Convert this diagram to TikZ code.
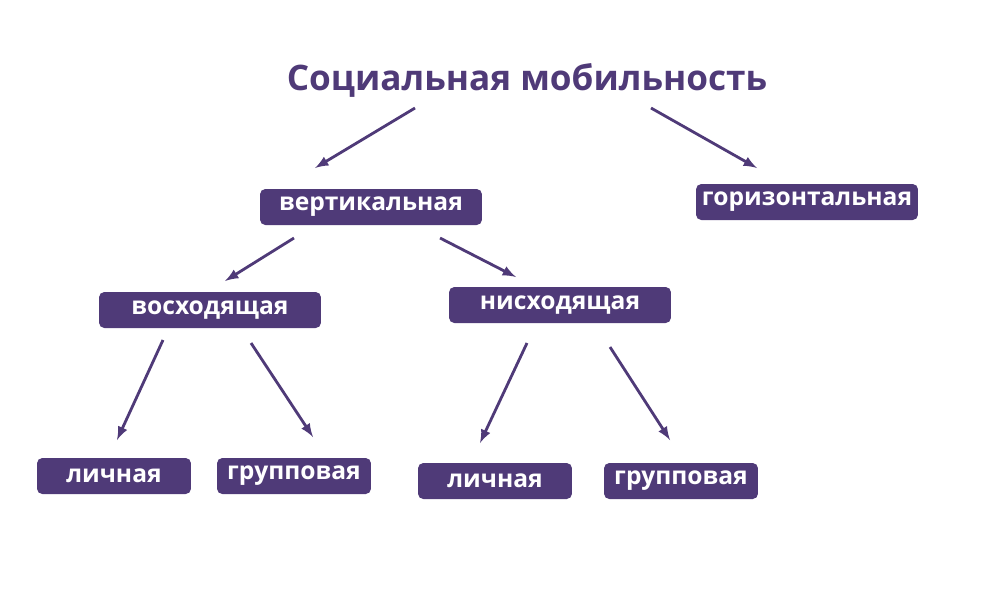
\documentclass[tikz,border=0pt]{standalone}
\usepackage{fontspec}
\setmainfont{Open Sans}
\usetikzlibrary{positioning}
\definecolor{violet}{HTML}{4F3A78}
\begin{document}
\begin{tikzpicture} [x=0.02cm,y=-0.02cm,
            box/.style={fill=violet,rounded corners=3pt,text=white,minimum width=4.44cm,minimum height=0.72cm,inner sep=0pt,font=\fontsize{14}{16}\selectfont\bfseries},
            small/.style={box,minimum width=3.08cm},
            arr/.style={-latex,violet,line width=1.6pt},
         every node/.append style={align=center}]
\useasboundingbox (0,0) rectangle (1000,600);
\node (title) at (527,80) [text=violet,font=\fontsize{20}{24}\selectfont\bfseries] {Социальная мобильность}
node (vert) at (371,207) [box] {вертикальная}
node (hor) at (807,202) [box] {горизонтальная}
node (up) at (210,310) [box] {восходящая}
node (down) at (560,305) [box] {нисходящая}
node (pers1) at (114,476) [small] {личная}
node (grp1) at (294,476) [small] {групповая}
node (pers2) at (495,481) [small] {личная}
node (grp2) at (681,481) [small] {групповая}
;
%arrow ends
\coordinate (a1) at (415,108); \coordinate (b1) at (315,168);
\coordinate (a2) at (651,108); \coordinate (b2) at (757,168);
\coordinate (a3) at (294,238); \coordinate (b3) at (225,281);
\coordinate (a4) at (440,238); \coordinate (b4) at (516,277);
\coordinate (a5) at (163,340); \coordinate (b5) at (117,440);
\coordinate (a6) at (251,343); \coordinate (b6) at (313,437);
\coordinate (a7) at (527,343); \coordinate (b7) at (480,443);
\coordinate (a8) at (610,347); \coordinate (b8) at (670,440);
\foreach \i in {1,...,8}
  \draw[arr] (a\i) -- (b\i);
\end{tikzpicture}
\end{document}
